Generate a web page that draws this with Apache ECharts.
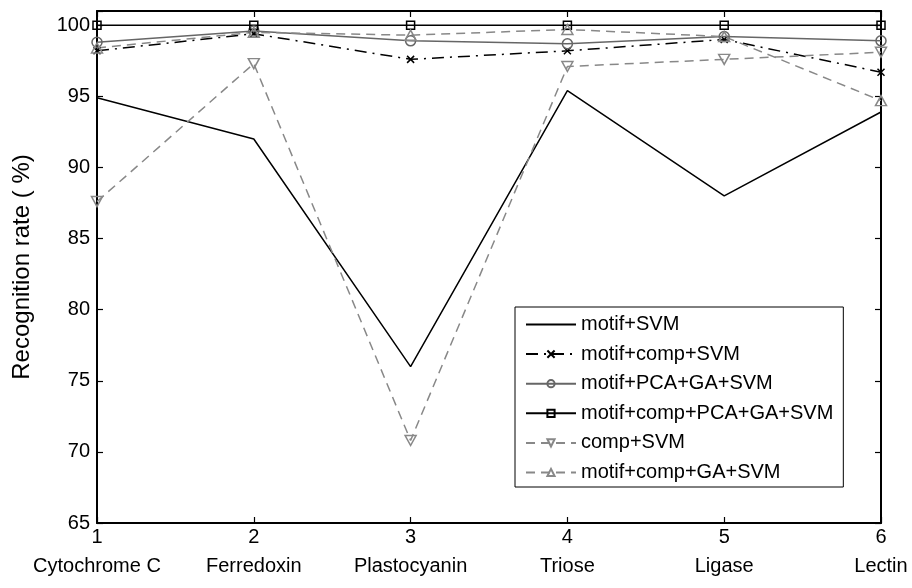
<!DOCTYPE html>
<html>
<head>
<meta charset="utf-8">
<script src="https://cdn.jsdelivr.net/npm/echarts@6/dist/echarts.min.js"></script>
<style>
html,body{margin:0;padding:0;background:#fff;}
#chart{width:912px;height:588px;}
</style>
</head>
<body>
<div id="chart"></div>
<script>
const tickNumbers = ['1', '2', '3', '4', '5', '6'];
const categories = ['Cytochrome C', 'Ferredoxin', 'Plastocyanin', 'Triose', 'Ligase', 'Lectin'];
const seriesNames = ['motif+SVM', 'motif+comp+SVM', 'motif+PCA+GA+SVM', 'motif+comp+PCA+GA+SVM', 'comp+SVM', 'motif+comp+GA+SVM'];
const motifSVM = [94.9, 92.0, 76.0, 95.4, 88.0, 93.9];
const motifCompSVM = [98.2, 99.4, 97.6, 98.2, 99.0, 96.7];
const motifPcaGaSVM = [98.8, 99.6, 98.9, 98.7, 99.2, 98.9];
const motifCompPcaGaSVM = [100, 100, 100, 100, 100, 100];
const compSVM = [87.6, 97.3, 70.8, 97.1, 97.6, 98.1];
const motifCompGaSVM = [98.4, 99.5, 99.3, 99.7, 99.2, 94.7];
const yMin = 65, yMax = 101, yStep = 5;

const FONT = "'Liberation Sans', Arial, sans-serif";
const xLabels = tickNumbers.map((n, i) => n + '\n' + categories[i]);

function mk(name, data, opts) {
  return Object.assign({
    name: name,
    type: 'line',
    data: data,
    showSymbol: true,
    animation: false,
    emphasis: { disabled: true }
  }, opts);
}

const series = [
  mk(seriesNames[0], motifSVM, {
    symbol: 'none',
    lineStyle: { color: '#000', width: 1.5, type: 'solid' },
    itemStyle: { color: '#000' }
  }),
  mk(seriesNames[1], motifCompSVM, {
    symbol: 'path://M0,0L10,10M10,0L0,10',
    symbolSize: 7,
    lineStyle: { color: '#000', width: 1.5, type: [12, 6, 2, 6] },
    itemStyle: { color: '#000', borderColor: '#000', borderWidth: 1.5 }
  }),
  mk(seriesNames[2], motifPcaGaSVM, {
    symbol: 'circle',
    symbolSize: 10,
    lineStyle: { color: '#666', width: 1.5, type: 'solid' },
    itemStyle: { color: 'transparent', borderColor: '#666', borderWidth: 1.5 }
  }),
  mk(seriesNames[3], motifCompPcaGaSVM, {
    symbol: 'rect',
    symbolSize: 8,
    lineStyle: { color: '#000', width: 1.5, type: 'solid' },
    itemStyle: { color: 'transparent', borderColor: '#000', borderWidth: 1.5 }
  }),
  mk(seriesNames[4], compSVM, {
    symbol: 'triangle',
    symbolRotate: 180,
    symbolSize: [11, 10],
    lineStyle: { color: '#888', width: 1.5, type: [9, 6] },
    itemStyle: { color: 'transparent', borderColor: '#888', borderWidth: 1.5 }
  }),
  mk(seriesNames[5], motifCompGaSVM, {
    symbol: 'triangle',
    symbolSize: [11, 10],
    lineStyle: { color: '#888', width: 1.5, type: [9, 6] },
    itemStyle: { color: 'transparent', borderColor: '#888', borderWidth: 1.5 }
  })
];

const axisCommon = {
  axisLine: { show: true, lineStyle: { color: '#000', width: 2 } },
  axisTick: { show: true, inside: true, length: 6, lineStyle: { color: '#000', width: 1.2 } },
  splitLine: { show: false }
};

const legendData = seriesNames.map((n, i) => (i === 0 ? { name: n, itemStyle: { color: 'transparent', borderColor: 'transparent', borderWidth: 0 } } : { name: n }));

const chart = echarts.init(document.getElementById('chart'), null, { renderer: 'canvas' });
chart.setOption({
  animation: false,
  backgroundColor: '#fff',
  textStyle: { fontFamily: FONT, color: '#000' },
  grid: { left: 97, right: 31, top: 11, bottom: 65, show: false, containLabel: false, outerBoundsMode: 'none' },
  legend: {
    orient: 'vertical',
    left: 515,
    top: 307,
    data: legendData,
    itemWidth: 50,
    itemHeight: 9,
    itemGap: 8.6,
    padding: [7, 10, 4, 10],
    backgroundColor: '#fff',
    borderColor: '#000',
    borderWidth: 1,
    borderRadius: 0,
    textStyle: { fontFamily: FONT, fontSize: 20, color: '#000', lineHeight: 21 }
  },
  xAxis: [
    Object.assign({}, axisCommon, {
      type: 'category',
      data: xLabels,
      boundaryGap: false,
      position: 'bottom',
      axisTick: Object.assign({}, axisCommon.axisTick, { alignWithLabel: true }),
      axisLabel: { fontFamily: FONT, fontSize: 20, color: '#000', lineHeight: 29, margin: 0, interval: 0, showMaxLabel: true, showMinLabel: true }
    }),
    Object.assign({}, axisCommon, {
      type: 'category',
      data: xLabels,
      boundaryGap: false,
      position: 'top',
      axisLabel: { show: false }
    })
  ],
  yAxis: [
    Object.assign({}, axisCommon, {
      type: 'value',
      min: yMin,
      max: yMax,
      interval: yStep,
      position: 'left',
      name: 'Recognition rate ( %)',
      nameLocation: 'middle',
      nameRotate: 90,
      nameGap: 63,
      nameTextStyle: { fontFamily: FONT, fontSize: 24, color: '#000' },
      axisLabel: {
        fontFamily: FONT, fontSize: 20, color: '#000', margin: 7,
        formatter: v => (v > 100 ? '' : String(v))
      }
    }),
    Object.assign({}, axisCommon, {
      type: 'value',
      min: yMin,
      max: yMax,
      interval: yStep,
      position: 'right',
      axisLabel: { show: false }
    })
  ],
  series: series
});
</script>
</body>
</html>
